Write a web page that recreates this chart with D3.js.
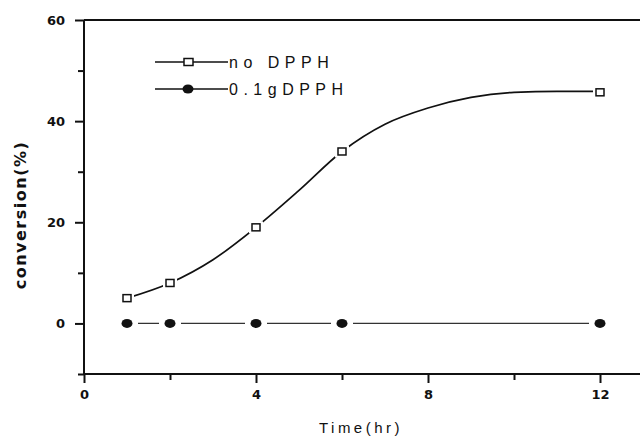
<!DOCTYPE html>
<html>
<head>
<meta charset="utf-8">
<script src="https://cdn.jsdelivr.net/npm/d3@7"></script>
<style>
  body { margin: 0; background: #fff; }
  svg { display: block; }
</style>
</head>
<body>
<div id="chart"></div>
<script>
'use strict';

// measured points
var time = [1, 2, 4, 6, 12];
var noDpph = [5, 8, 19, 34, 45.7];
var dpph = [0, 0, 0, 0, 0];

// smoothed curve drawn through the no-DPPH points
var fitTime = [1, 2, 3, 4, 5, 6, 7, 8, 9, 10, 11, 12];
var fitConv = [5, 8, 12.6, 19, 26.3, 34, 39.4, 42.6, 44.7, 45.7, 45.9, 45.9];

var xMajor = [0, 4, 8, 12];
var xMinor = [2, 6, 10];
var yMajor = [0, 20, 40, 60];
var yMinor = [-10, 10, 30, 50];

var legendLabels = ['no DPPH', '0.1gDPPH'];

var width = 640;
var height = 437;
var margin = {top: 20, right: 0, bottom: 63, left: 84};

var svg = d3.select('#chart').append('svg')
	.attr('width', width)
	.attr('height', height);

var x = d3.scaleLinear().domain([0, 13]).range([margin.left, margin.left + 13 * 43]);
var y = d3.scaleLinear().domain([-10, 60]).range([height - margin.bottom, margin.top]);

var tickFont = '"DejaVu Sans", sans-serif';

// frame line on top
svg.append('line')
	.attr('x1', x(0)).attr('x2', width)
	.attr('y1', y(60)).attr('y2', y(60))
	.attr('stroke', '#111').attr('stroke-width', 2);

// axes
var xAxis = svg.append('g')
	.attr('transform', 'translate(0,' + y(-10) + ')')
	.call(d3.axisBottom(x).tickValues(xMajor).tickSize(9).tickPadding(5));
svg.append('g')
	.attr('transform', 'translate(0,' + y(-10) + ')')
	.call(d3.axisBottom(x).tickValues(xMinor).tickSize(6).tickFormat(''));

var yAxis = svg.append('g')
	.attr('transform', 'translate(' + x(0) + ',0)')
	.call(d3.axisLeft(y).tickValues(yMajor).tickSize(9).tickPadding(10));
svg.append('g')
	.attr('transform', 'translate(' + x(0) + ',0)')
	.call(d3.axisLeft(y).tickValues(yMinor).tickSize(6).tickFormat(''));

svg.selectAll('.domain').remove();
svg.selectAll('.tick line').attr('stroke', '#111').attr('stroke-width', 2);
svg.selectAll('.tick text')
	.attr('fill', '#111')
	.style('font-family', tickFont)
	.style('font-weight', 'bold')
	.style('font-size', '13px');
xAxis.selectAll('.tick text').attr('dy', '0.85em');

svg.append('line')
	.attr('x1', x(0)).attr('x2', x(0))
	.attr('y1', y(60)).attr('y2', y(-10))
	.attr('stroke', '#111').attr('stroke-width', 2);
svg.append('line')
	.attr('x1', x(0) - 1).attr('x2', width)
	.attr('y1', y(-10)).attr('y2', y(-10))
	.attr('stroke', '#111').attr('stroke-width', 2);

// axis titles
svg.append('text')
	.attr('x', 361).attr('y', 433)
	.attr('text-anchor', 'middle')
	.attr('fill', '#111')
	.style('font-family', '"Liberation Sans", Arial, sans-serif')
	.style('font-size', '15px')
	.style('letter-spacing', '3.5px')
	.text('Time(hr)');

svg.append('text')
	.attr('transform', 'translate(26,215) rotate(-90)')
	.attr('text-anchor', 'middle')
	.attr('fill', '#111')
	.style('font-family', '"DejaVu Sans", sans-serif')
	.style('font-weight', 'bold')
	.style('font-size', '16px')
	.style('letter-spacing', '1.5px')
	.text('conversion(%)');

// curves
var fitData = fitTime.map(function(t, i){ return [t, fitConv[i]]; });
var line = d3.line()
	.x(function(d){ return x(d[0]); })
	.y(function(d){ return y(d[1]); })
	.curve(d3.curveMonotoneX);

svg.append('path')
	.attr('d', line(fitData))
	.attr('fill', 'none')
	.attr('stroke', '#111')
	.attr('stroke-width', 1.7);

var flatData = time.map(function(t, i){ return [t, dpph[i]]; });
svg.append('path')
	.attr('d', d3.line().x(function(d){ return x(d[0]); }).y(function(d){ return y(d[1]); })(flatData))
	.attr('fill', 'none')
	.attr('stroke', '#333')
	.attr('stroke-width', 1.2);

// gaps round the symbols
svg.selectAll('.gapA').data(time).enter().append('rect')
	.attr('x', function(d){ return x(d) - 7; })
	.attr('y', function(d, i){ return y(noDpph[i]) - 6; })
	.attr('width', 14).attr('height', 12)
	.attr('fill', '#fff');
svg.selectAll('.gapB').data(time).enter().append('rect')
	.attr('x', function(d){ return x(d) - 11; })
	.attr('y', function(d, i){ return y(dpph[i]) - 4; })
	.attr('width', 22).attr('height', 8)
	.attr('fill', '#fff');

// symbols
svg.selectAll('.sq').data(time).enter().append('rect')
	.attr('x', function(d){ return x(d) - 4; })
	.attr('y', function(d, i){ return y(noDpph[i]) - 3.5; })
	.attr('width', 8).attr('height', 7)
	.attr('fill', '#fff')
	.attr('stroke', '#111')
	.attr('stroke-width', 1.5);

svg.selectAll('.dot').data(time).enter().append('ellipse')
	.attr('cx', function(d){ return x(d); })
	.attr('cy', function(d, i){ return y(dpph[i]); })
	.attr('rx', 5.5).attr('ry', 4.5)
	.attr('fill', '#111');

// legend
var legend = svg.append('g');
legendLabels.forEach(function(label, i){
	var ly = 62 + i * 27;
	legend.append('line')
		.attr('x1', 155).attr('x2', 228)
		.attr('y1', ly).attr('y2', ly)
		.attr('stroke', '#111').attr('stroke-width', 1.5);
	if (i === 0) {
		legend.append('rect')
			.attr('x', 184).attr('y', ly - 3.5)
			.attr('width', 9).attr('height', 7)
			.attr('fill', '#fff').attr('stroke', '#111').attr('stroke-width', 1.5);
	} else {
		legend.append('ellipse')
			.attr('cx', 188).attr('cy', ly)
			.attr('rx', 5.5).attr('ry', 4.5)
			.attr('fill', '#111');
	}
	legend.append('text')
		.attr('x', 229).attr('y', ly + 6)
		.attr('fill', '#111')
		.style('font-family', '"Liberation Sans", Arial, sans-serif')
		.style('font-size', '16px')
		.style('letter-spacing', '5.5px')
		.text(label);
});
</script>
</body>
</html>
